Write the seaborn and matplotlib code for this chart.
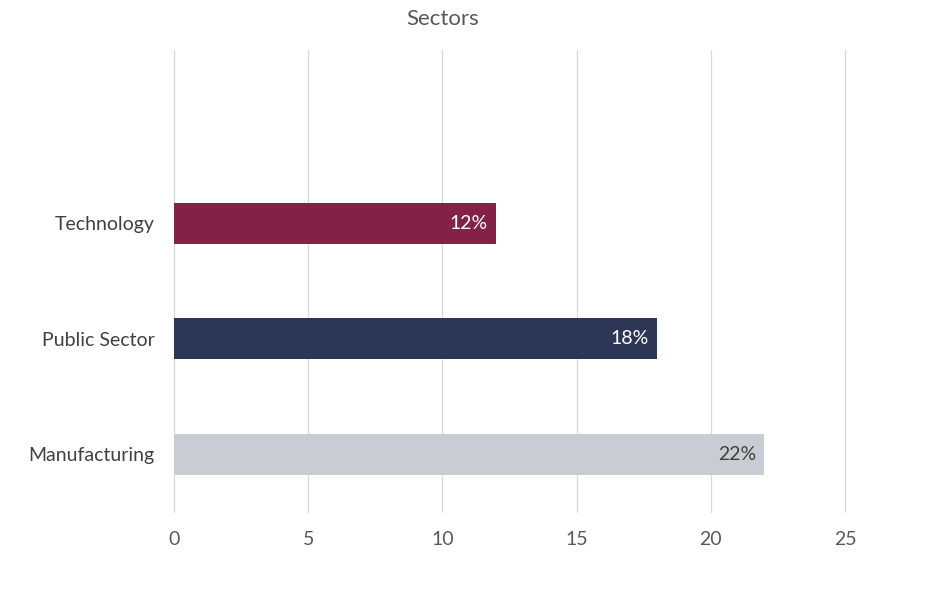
import matplotlib
matplotlib.use("Agg")
import matplotlib.pyplot as plt
import seaborn as sns
import pandas as pd

categories = ["Technology", "Public Sector", "Manufacturing"]
values = [12, 18, 22]
labels = ["12%", "18%", "22%"]
colors = ["#832245", "#2E3656", "#C9CCD3"]
label_colors = ["#FFFFFF", "#FFFFFF", "#404040"]
xticks = [0, 5, 10, 15, 20, 25]

sns.set_theme(style="white")
plt.rcParams["font.family"] = ["Lato", "DejaVu Sans"]

df = pd.DataFrame({"cat": categories, "val": values})

fig = plt.figure(figsize=(9.29, 5.9), dpi=100)
ax = fig.add_axes([174/929, 1-512/590, (845-174)/929, (512-50)/590])

sns.barplot(data=df, y="cat", x="val", hue="cat", palette=colors, order=categories,
            hue_order=categories, width=0.355, legend=False, ax=ax, saturation=1,
            linewidth=0)

ax.set_xlim(0, 25)
ax.set_ylim(2.5, -1.5)
ax.set_xticks(xticks)
ax.set_xticklabels([str(t) for t in xticks])
ax.xaxis.grid(True, color="#D9D9D9", linewidth=0.9)
for gl in ax.get_xgridlines():
    gl.set_clip_on(False)
ax.set_axisbelow(True)
for s in ax.spines.values():
    s.set_visible(False)
ax.set_xlabel("")
ax.set_ylabel("")
ax.tick_params(axis="x", length=0, pad=14, labelsize=14, labelcolor="#595959")
ax.tick_params(axis="y", length=0, pad=14, labelsize=14, labelcolor="#404040")

for i, (v, lab, c) in enumerate(zip(values, labels, label_colors)):
    ax.annotate(lab, xy=(v, i), xytext=(-6, 0), textcoords="offset points",
                ha="right", va="center", color=c, fontsize=14)

fig.text(443/929, 1-19/590, "Sectors", ha="center", va="center", fontsize=16, color="#595959")

fig.savefig("out.png", dpi=100)
